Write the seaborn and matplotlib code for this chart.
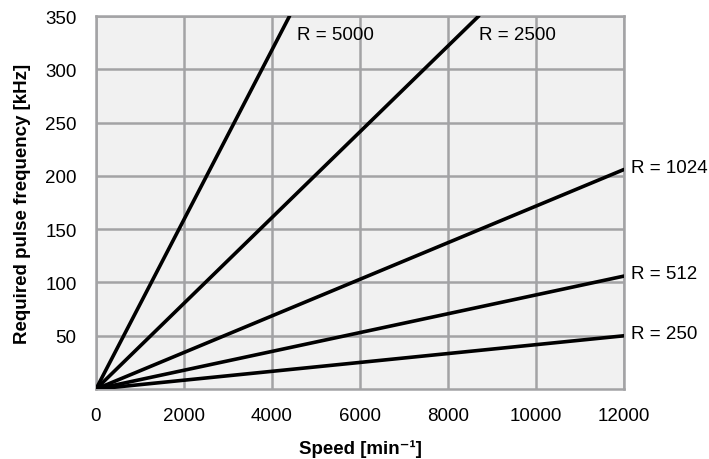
import pandas as pd
import matplotlib.pyplot as plt
import seaborn as sns

# Values (visible segment of each line)
resolutions = ["R = 5000", "R = 2500", "R = 1024", "R = 512", "R = 250"]
speed_5000 = [0, 4400]
freq_5000 = [0, 350]
speed_2500 = [0, 8700]
freq_2500 = [0, 350]
speed_1024 = [0, 12000]
freq_1024 = [0, 206]
speed_512 = [0, 12000]
freq_512 = [0, 106]
speed_250 = [0, 12000]
freq_250 = [0, 50]

x_ticks = [0, 2000, 4000, 6000, 8000, 10000, 12000]
y_ticks = [50, 100, 150, 200, 250, 300, 350]

speeds = [speed_5000, speed_2500, speed_1024, speed_512, speed_250]
freqs = [freq_5000, freq_2500, freq_1024, freq_512, freq_250]
rows = []
for name, xs, ys in zip(resolutions, speeds, freqs):
    for x, y in zip(xs, ys):
        rows.append({"Resolution": name, "Speed": x, "Frequency": y})
df = pd.DataFrame(rows)

sns.set_style("white")
plt.rcParams['font.family'] = ['Liberation Sans', 'DejaVu Sans']
plt.rcParams['text.color'] = 'black'
plt.rcParams['axes.labelcolor'] = 'black'
plt.rcParams['xtick.color'] = 'black'
plt.rcParams['ytick.color'] = 'black'

fig = plt.figure(figsize=(7.09, 4.60), dpi=100)
ax = fig.add_axes([0.1354, 0.152, 0.7446, 0.811])
ax.set_facecolor("#f1f1f1")

sns.lineplot(data=df, x="Speed", y="Frequency", units="Resolution",
             estimator=None, color="black", linewidth=2.6, ax=ax, zorder=3)

ax.set_xlim(0, 12000)
ax.set_ylim(0, 350)
ax.set_xticks(x_ticks)
ax.set_yticks(y_ticks)
ax.grid(True, color="#a3a3a5", linewidth=1.8)
ax.set_axisbelow(True)
for s in ax.spines.values():
    s.set_color("#a3a3a5")
    s.set_linewidth(1.8)
ax.tick_params(axis="both", length=0, labelsize=13.5)
ax.tick_params(axis="x", pad=13)
ax.tick_params(axis="y", pad=14)

ax.set_xlabel("Speed [min⁻¹]", fontsize=13.5, fontweight="bold", labelpad=11)
ax.set_ylabel("Required pulse frequency [kHz]", fontsize=13.5, fontweight="bold", labelpad=10)

# Curve labels
ax.text(4570, 333, resolutions[0], fontsize=13.5, va="center", ha="left")
ax.text(8700, 333, resolutions[1], fontsize=13.5, va="center", ha="left")
for name, xs, ys in zip(resolutions[2:], speeds[2:], freqs[2:]):
    ax.text(xs[-1] + 170, ys[-1] + 2, name, fontsize=13.5, va="center", ha="left",
            clip_on=False)

fig.savefig("out.png", dpi=100)
